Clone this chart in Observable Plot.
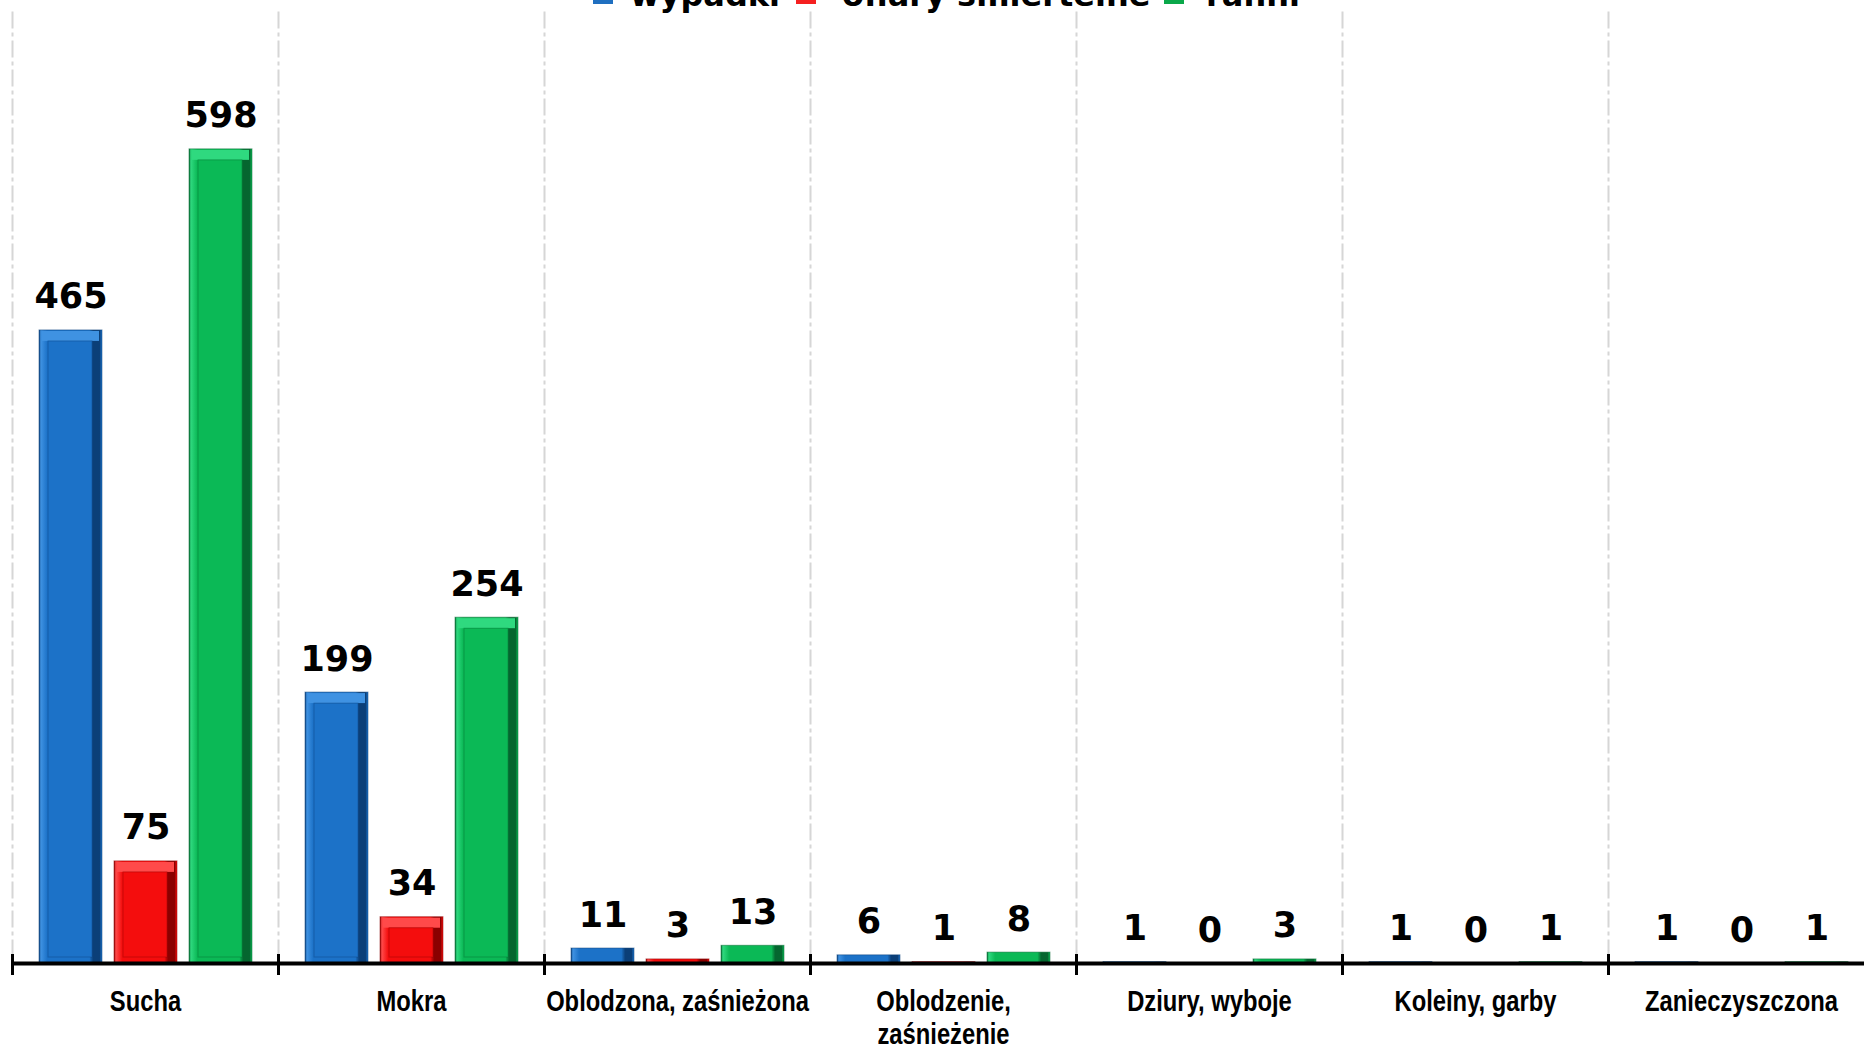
<!DOCTYPE html>
<html>
<head>
<meta charset="utf-8">
<script src="https://cdn.jsdelivr.net/npm/d3@7"></script>
<script src="https://cdn.jsdelivr.net/npm/@observablehq/plot@0.6"></script>
<style>
html,body{margin:0;padding:0;background:#fff;overflow:hidden}
#wrap{position:relative;width:1864px;height:1045px;overflow:hidden}
#legend{position:absolute;left:0;top:0;width:1864px;height:20px;z-index:2}
#legend .sw{position:absolute;top:-16px;width:20px;height:20px}
#legend .lb{position:absolute;top:-21px;white-space:nowrap;font-family:"DejaVu Sans",sans-serif;font-weight:bold;font-size:32px;line-height:32px;color:#000}
#chart{position:absolute;left:0;top:0}
</style>
</head>
<body>
<div id="wrap">
  <div id="chart"></div>
  <div id="legend"></div>
</div>
<script>
// ---- data ----
const categories = ["Sucha", "Mokra", "Oblodzona, zaśnieżona", "Oblodzenie, zaśnieżenie", "Dziury, wyboje", "Koleiny, garby", "Zanieczyszczona"];
const categoryLabels = ["Sucha", "Mokra", "Oblodzona, zaśnieżona", "Oblodzenie,\nzaśnieżenie", "Dziury, wyboje", "Koleiny, garby", "Zanieczyszczona"];
const series = ["wypadki", "ofiary śmiertelne", "ranni"];
const wypadki = [465, 199, 11, 6, 1, 1, 1];
const ofiary = [75, 34, 3, 1, 0, 0, 0];
const ranni = [598, 254, 13, 8, 3, 1, 1];

const seriesValues = [wypadki, ofiary, ranni];
const baseColors = ["#1c72c8", "#f40d0d", "#0bb956"];
const legendColors = ["#1f6fc0", "#f52020", "#0aa84a"];
const lightColors = ["#3f92e2", "#ff4a4a", "#2fd97f"];
const darkColors = ["#0b3f78", "#8a0000", "#05662f"];

const rows = [];
categories.forEach((c, i) => {
  series.forEach((s, j) => rows.push({category: c, series: s, value: seriesValues[j][i], si: j}));
});
const catRows = categories.map((c, i) => ({category: c, label: categoryLabels[i]}));

// ---- legend (cut off at the top edge, as in the reference) ----
const legendSwatchX = [593, 796, 1164];
const legendTextX = [630, 842, 1206];
const legend = document.getElementById("legend");
series.forEach((s, j) => {
  const sw = document.createElement("div");
  sw.className = "sw";
  sw.style.background = legendColors[j];
  sw.style.left = legendSwatchX[j] + "px";
  const lb = document.createElement("div");
  lb.className = "lb";
  lb.textContent = s;
  lb.style.left = legendTextX[j] + "px";
  legend.appendChild(sw);
  legend.appendChild(lb);
});

// ---- marks ----
const barMarks = [];
series.forEach((s, j) => {
  const sel = d => d.si === j;
  barMarks.push(Plot.barY(rows, {filter: sel, fx: "category", x: "series", y: "value", fill: `url(#grad${j})`, stroke: darkColors[j], strokeWidth: 1, strokeOpacity: 0.5}));
  barMarks.push(Plot.barY(rows, {filter: d => sel(d) && d.value > 20, fx: "category", x: "series", y1: "value", y2: "value", insetBottom: -11, insetLeft: 3, insetRight: 3, insetTop: 1, fill: lightColors[j]}));
  barMarks.push(Plot.barY(rows, {filter: d => sel(d) && d.value > 20, fx: "category", x: "series", y: "value", insetLeft: 9, insetRight: 10, insetTop: 11, insetBottom: 6, fill: baseColors[j], stroke: darkColors[j], strokeWidth: 1, strokeOpacity: 0.4}));
});

const plot = Plot.plot({
  width: 1864,
  height: 1045,
  marginTop: 10,
  marginBottom: 82,
  marginLeft: 12,
  marginRight: 0,
  style: {background: "transparent", overflow: "visible"},
  fx: {domain: categories, range: [12, 1874], padding: 0, axis: null, label: null},
  x: {domain: series, paddingInner: 0.16, paddingOuter: 0.353, axis: null, label: null},
  y: {domain: [0, 700], axis: null, label: null},
  marks: [
    Plot.frame({anchor: "left", stroke: "#d6d6d6", strokeWidth: 2, strokeDasharray: "15 6 2 6", insetTop: 2}),
    ...barMarks,
    Plot.ruleY([0], {stroke: "#000", strokeWidth: 4}),
    Plot.frame({anchor: "left", stroke: "#000", strokeWidth: 3, insetTop: 945, insetBottom: -10}),
    Plot.text(rows, {fx: "category", x: "series", y: "value", text: d => String(d.value), lineAnchor: "bottom", dy: -22,
      fontFamily: "DejaVu Sans", fontWeight: "bold", fontSize: 35, fill: "#000"}),
    Plot.text(catRows, {fx: "category", text: "label", frameAnchor: "bottom", lineAnchor: "top", dy: 24, lineHeight: 1.14,
      className: "catlab", fontFamily: "'Liberation Sans', Arial, sans-serif", fontWeight: "bold", fontSize: 29, fill: "#000"})
  ]
});

const svgNode = plot.tagName.toLowerCase() === "svg" ? plot : plot.querySelector("svg");
// narrow the category labels horizontally (Arial Narrow look)
svgNode.querySelectorAll(".catlab text").forEach(t => {
  const tr = t.getAttribute("transform") || "";
  t.setAttribute("transform", tr + " scale(0.82,1)");
});

// gradient definitions for the bevelled bars
const svg = d3.select(svgNode);
const defs = svg.insert("defs", ":first-child");
series.forEach((s, j) => {
  const g = defs.append("linearGradient").attr("id", `grad${j}`).attr("x1", 0).attr("x2", 1).attr("y1", 0).attr("y2", 0);
  [[0, darkColors[j]], [0.03, lightColors[j]], [0.13, baseColors[j]], [0.8, baseColors[j]], [0.86, darkColors[j]], [0.96, darkColors[j]], [1, baseColors[j]]]
    .forEach(([o, c]) => g.append("stop").attr("offset", o).attr("stop-color", c));
});

document.getElementById("chart").appendChild(plot);
</script>
</body>
</html>
